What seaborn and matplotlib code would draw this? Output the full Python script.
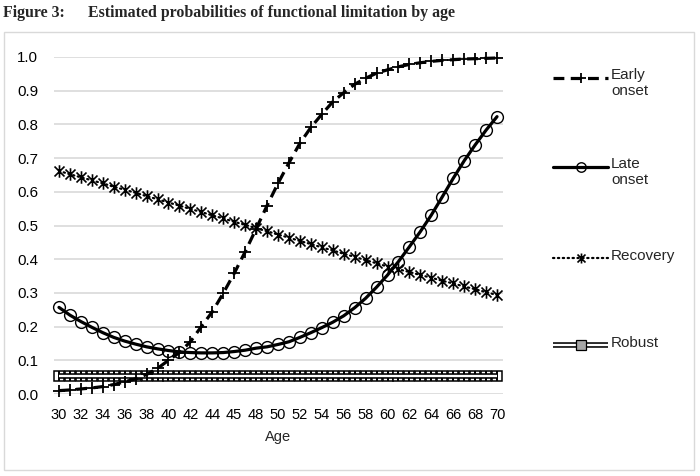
import numpy as np
import pandas as pd
import matplotlib
matplotlib.use("Agg")
import matplotlib.pyplot as plt
import seaborn as sns
from matplotlib.lines import Line2D
from matplotlib.patches import Rectangle
from matplotlib.path import Path

# ---------------- data ----------------
ages = list(range(30, 71))
tick_labels = ["30", "32", "34", "36", "38", "40", "42", "44", "45", "48", "50",
               "52", "54", "56", "58", "60", "62", "64", "66", "68", "70"]
early_onset = [0.010, 0.012, 0.015, 0.018, 0.022, 0.028, 0.036, 0.045, 0.058, 0.076,
               0.100, 0.123, 0.155, 0.200, 0.244, 0.299, 0.358, 0.422, 0.490, 0.559,
               0.625, 0.686, 0.744, 0.791, 0.830, 0.867, 0.894, 0.919, 0.937, 0.952,
               0.962, 0.971, 0.978, 0.983, 0.987, 0.990, 0.992, 0.994, 0.995, 0.996,
               0.997]
late_onset = [0.257, 0.234, 0.215, 0.198, 0.182, 0.168, 0.157, 0.148, 0.140, 0.134,
              0.129, 0.125, 0.123, 0.122, 0.122, 0.123, 0.126, 0.130, 0.136, 0.140,
              0.147, 0.155, 0.168, 0.182, 0.197, 0.213, 0.232, 0.256, 0.284, 0.317,
              0.353, 0.393, 0.437, 0.482, 0.531, 0.585, 0.640, 0.692, 0.739, 0.783,
              0.823]
recovery = [0.662, 0.652, 0.643, 0.634, 0.625, 0.615, 0.606, 0.597, 0.587, 0.578,
            0.568, 0.559, 0.549, 0.540, 0.530, 0.521, 0.511, 0.502, 0.492, 0.483,
            0.473, 0.464, 0.454, 0.445, 0.435, 0.426, 0.416, 0.407, 0.397, 0.388,
            0.378, 0.370, 0.362, 0.353, 0.345, 0.336, 0.328, 0.319, 0.311, 0.302,
            0.294]
robust = [0.054] * 41
series_labels = ["Early\nonset", "Late\nonset", "Recovery", "Robust"]
y_ticks = [0.0, 0.1, 0.2, 0.3, 0.4, 0.5, 0.6, 0.7, 0.8, 0.9, 1.0]

df = pd.DataFrame({"age": ages, "early": early_onset, "late": late_onset,
                   "recovery": recovery, "robust": robust})

# ---------------- style ----------------
sns.set_style("white")
plt.rcParams["font.family"] = ["Liberation Sans", "DejaVu Sans"]

W, H = 700, 476
fig = plt.figure(figsize=(W / 100, H / 100), dpi=100)

def fx(px):
    return px / W

def fy(py):
    return 1 - py / H

ax = fig.add_axes([fx(53.5), fy(394), fx(502.5) - fx(53.5), fy(57) - fy(394)])

# asterisk marker (X with vertical bar)
ast = Path([(0, -1), (0, 1), (-0.8, -0.8), (0.8, 0.8), (-0.8, 0.8), (0.8, -0.8)],
           [Path.MOVETO, Path.LINETO, Path.MOVETO, Path.LINETO, Path.MOVETO, Path.LINETO])

K = "black"
early_kw = dict(color=K, lw=2.3, linestyle=(0, (3.4, 2.0)), marker="+",
                markersize=9, mew=1.3, mec=K)
late_kw = dict(color=K, lw=2.3, linestyle="-", marker="o", markersize=8.5,
               mew=1.0, mec=K, mfc="none")
rec_kw = dict(color=K, lw=1.6, linestyle=(0, (0.6, 1.6)), dash_capstyle="round",
              marker=ast, markersize=9, mew=1.2, mec=K)

# Robust: square boxes (outline), vertical dividers, then double line on top
sq = 7.8  # points, about one category wide
sns.lineplot(data=df, x="age", y="robust", ax=ax, color=K, lw=0, marker="s",
             markersize=sq, mew=1.1, mec=K, mfc="white", zorder=3)
sns.scatterplot(data=df, x="age", y="robust", ax=ax, marker="|", s=sq ** 2,
                color=K, edgecolor=K, linewidth=1.4, zorder=3.5)
sns.lineplot(data=df, x="age", y="robust", ax=ax, color=K, lw=4.0, zorder=4,
             solid_capstyle="butt")
sns.lineplot(data=df, x="age", y="robust", ax=ax, color="white", lw=1.7, zorder=5,
             solid_capstyle="butt")

sns.lineplot(data=df, x="age", y="recovery", ax=ax, zorder=6, **rec_kw)
sns.lineplot(data=df, x="age", y="late", ax=ax, zorder=7, **late_kw)
sns.lineplot(data=df, x="age", y="early", ax=ax, zorder=8, **early_kw)

if ax.get_legend() is not None:
    ax.get_legend().remove()

ax.set_xlim(29.5, 70.5)
ax.set_ylim(0, 1.0)
ax.set_yticks(y_ticks)
ax.set_yticklabels([f"{v:.1f}" for v in y_ticks], fontsize=10.8, color="#000000")
ax.set_xticks(ages[::2])
ax.set_xticklabels(tick_labels, fontsize=10.5, color="#000000")
ax.tick_params(axis="y", length=0, pad=11)
ax.tick_params(axis="x", length=0, pad=10)
ax.set_xlabel("Age", fontsize=10.5, labelpad=6)
ax.set_ylabel("")
ax.grid(axis="y", color="#d9d9d9", lw=1.2, zorder=0)
ax.grid(axis="x", visible=False)
for s in ax.spines.values():
    s.set_visible(False)
for art in ax.lines + ax.collections:
    art.set_clip_on(False)

# chart frame
fig.add_artist(Rectangle((fx(4), fy(470)), fx(694) - fx(4), fy(32) - fy(470),
                         transform=fig.transFigure, fill=False,
                         edgecolor="#d9d9d9", lw=1.0))

# title
fig.text(fx(3), fy(17), "Figure 3:", family=["Liberation Serif", "DejaVu Serif"],
         weight="bold", fontsize=11.4, va="baseline", ha="left")
fig.text(fx(88), fy(17), "Estimated probabilities of functional limitation by age",
         family=["Liberation Serif", "DejaVu Serif"], weight="bold", fontsize=11.4,
         va="baseline", ha="left")

# legend (manual, Excel-like)
leg_y = [77.5, 166.5, 258, 345]
hx0, hx1, hxm, tx = 553, 608, 580.5, 611
handles = [early_kw, late_kw, rec_kw]
for i, kw in enumerate(handles):
    y = fy(leg_y[i])
    line_kw = {k: v for k, v in kw.items() if k not in ("marker", "markersize", "mew", "mec", "mfc")}
    fig.add_artist(Line2D([fx(hx0), fx(hx1)], [y, y], transform=fig.transFigure, **line_kw))
    fig.add_artist(Line2D([fx(hxm)], [y], transform=fig.transFigure, lw=0,
                          marker=kw["marker"], markersize=kw["markersize"] * 0.8,
                          mew=kw["mew"], mec=K, mfc=kw.get("mfc", K)))
y = fy(leg_y[3])
fig.add_artist(Line2D([fx(hx0), fx(hx1)], [y, y], transform=fig.transFigure, color=K,
                      lw=4.0, solid_capstyle="butt"))
fig.add_artist(Line2D([fx(hx0), fx(hx1)], [y, y], transform=fig.transFigure,
                      color="white", lw=1.7, solid_capstyle="butt"))
fig.add_artist(Line2D([fx(hxm)], [y], transform=fig.transFigure, lw=0, marker="s",
                      markersize=6.5, mew=0.9, mec=K, mfc="#a6a6a6"))
for i, lab in enumerate(series_labels):
    fig.text(fx(tx), fy(leg_y[i] - 9), lab, fontsize=11, va="top", ha="left",
             linespacing=1.15)

fig.savefig("out.png", dpi=100)
